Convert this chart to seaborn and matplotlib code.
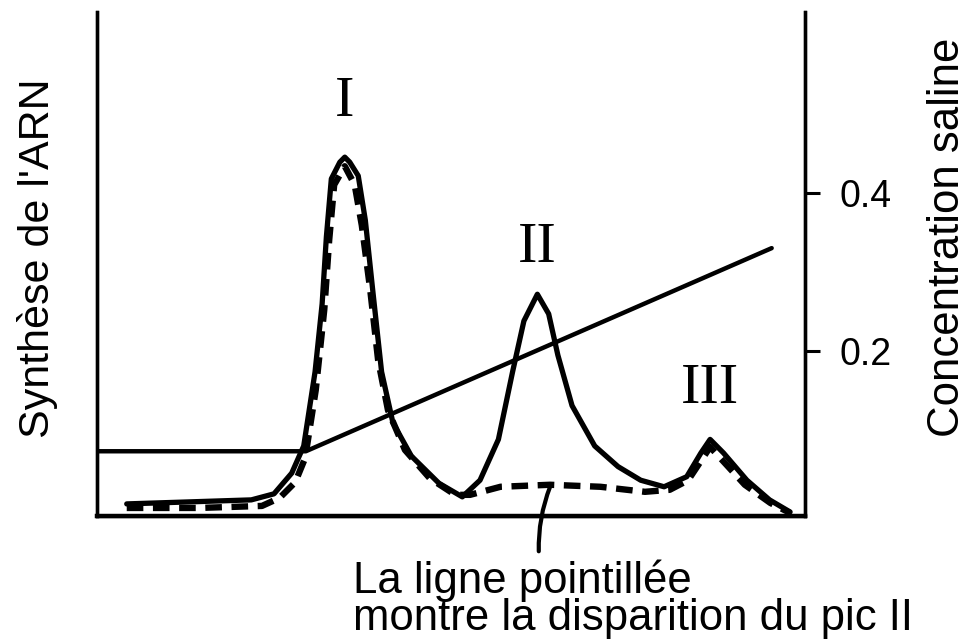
import matplotlib
matplotlib.use("Agg")
import matplotlib.pyplot as plt
import seaborn as sns
import pandas as pd

# Elution profile: fraction number (0-100) vs RNA synthesis (arbitrary units 0-100)
solid_x = [4.2, 21.8, 25.0, 27.5, 29.2, 30.8, 31.8, 32.4, 33.1, 34.3, 35.0, 35.7,
           36.9, 37.9, 38.9, 40.2, 41.8, 44.4, 48.3, 51.6, 54.1, 56.7, 58.7, 60.3,
           62.2, 63.8, 65.1, 67.1, 70.3, 73.6, 76.8, 80.1, 83.3, 85.3, 86.6, 88.5,
           91.8, 95.0, 97.9]
solid_y = [2.4, 3.2, 4.4, 8.5, 13.9, 28.6, 42.1, 55.4, 66.9, 70.2, 71.2, 70.2,
           67.5, 58.7, 45.4, 28.6, 18.5, 11.9, 6.5, 3.8, 7.1, 15.2, 28.6, 38.7,
           44.0, 40.1, 31.9, 21.9, 13.9, 9.8, 7.1, 5.8, 7.8, 12.5, 15.2, 12.5,
           7.1, 3.2, 0.8]

# Dashed profile: same run after loss of peak II
dashed_x = [4.2, 14.5, 23.3, 25.8, 28.0, 29.4, 30.9, 32.1, 32.8, 33.5, 35.0, 36.4,
            37.4, 38.6, 39.7, 41.1, 43.5, 47.0, 50.6, 52.7, 57.0, 64.0, 71.1, 77.4,
            80.9, 83.5, 85.2, 86.6, 88.3, 91.5, 95.1, 97.9]
dashed_y = [1.6, 1.6, 2.0, 3.6, 6.7, 11.5, 25.0, 40.9, 54.8, 65.7, 69.4, 65.7,
            57.7, 44.8, 31.0, 21.0, 13.1, 7.5, 4.2, 4.2, 5.8, 6.2, 5.8, 4.8,
            5.2, 7.1, 10.7, 13.7, 11.1, 6.2, 2.6, 0.6]

# Salt gradient (right axis)
salt_x = [0.0, 29.5, 95.3]
salt_y = [0.074, 0.074, 0.33]
salt_ticks = [0.2, 0.4]

peak_labels = ["I", "II", "III"]
peak_x = [35.0, 62.2, 86.6]
peak_y = [71.2, 44.0, 15.2]
label_offsets = [40, 33, 36]  # points above the peak

sns.set_theme(style="white")
plt.rcParams["font.family"] = ["Liberation Sans", "DejaVu Sans"]
plt.rcParams["text.color"] = "black"
plt.rcParams["ytick.color"] = "black"

fig = plt.figure(figsize=(9.71, 6.41), dpi=100)
ax = fig.add_axes([0.0999, 0.195, 0.7291, 0.7863])

profile = pd.DataFrame({"fraction": solid_x, "rna": solid_y})
lost = pd.DataFrame({"fraction": dashed_x, "rna": dashed_y})

sns.lineplot(data=profile, x="fraction", y="rna", ax=ax, color="black",
             lw=3.8, sort=False, solid_joinstyle="round", solid_capstyle="round")
sns.lineplot(data=lost, x="fraction", y="rna", ax=ax, color="black",
             lw=4.6, sort=False, linestyle=(0, (2.6, 1.5)))

ax.set_xlim(0, 100)
ax.set_ylim(0, 100)
ax.set_xticks([])
ax.set_yticks([])
ax.set_xlabel("")
ax.set_ylabel("")

for lab, px, py, off in zip(peak_labels, peak_x, peak_y, label_offsets):
    ax.annotate(lab, xy=(px, py), xytext=(0, off), textcoords="offset points",
                ha="center", va="center", fontsize=42,
                family=["Liberation Serif", "DejaVu Serif"])

# leader from the dashed line down to the caption
ax.annotate("", xy=(64.0, 5.8), xytext=(62.4, -7.0), annotation_clip=False,
            arrowprops=dict(arrowstyle="-", lw=3, color="black",
                            connectionstyle="arc3,rad=-0.1", shrinkA=0, shrinkB=0))

ax2 = ax.twinx()
sns.lineplot(x=salt_x, y=salt_y, ax=ax2, color="black", lw=3.2, sort=False)
ax2.set_ylim(-0.0076, 0.6276)
ax2.set_yticks(salt_ticks)
ax2.set_yticklabels([f"{t:.1f}" for t in salt_ticks])
ax2.tick_params(axis="y", direction="out", length=11, width=2.2, pad=14,
                labelsize=27, colors="black", right=True)
ax2.set_ylabel("")

for a in (ax, ax2):
    a.spines["top"].set_visible(False)
    for s in ("left", "right", "bottom"):
        a.spines[s].set_color("black")
        a.spines[s].set_linewidth(2.4)
ax.spines["bottom"].set_linewidth(3.2)

fig.text(38 / 971, 1 - 258 / 641, "Synthèse de l'ARN", rotation=90,
         ha="center", va="center", fontsize=31)
fig.text(947 / 971, 1 - 237 / 641, "Concentration saline", rotation=90,
         ha="center", va="center", fontsize=31.5)
fig.text(353 / 971, 1 - 593 / 641, "La ligne pointillée",
         ha="left", va="baseline", fontsize=31.5)
fig.text(353 / 971, 1 - 630 / 641, "montre la disparition du pic II",
         ha="left", va="baseline", fontsize=31.5)

fig.savefig("out.png", dpi=100, facecolor="white")
